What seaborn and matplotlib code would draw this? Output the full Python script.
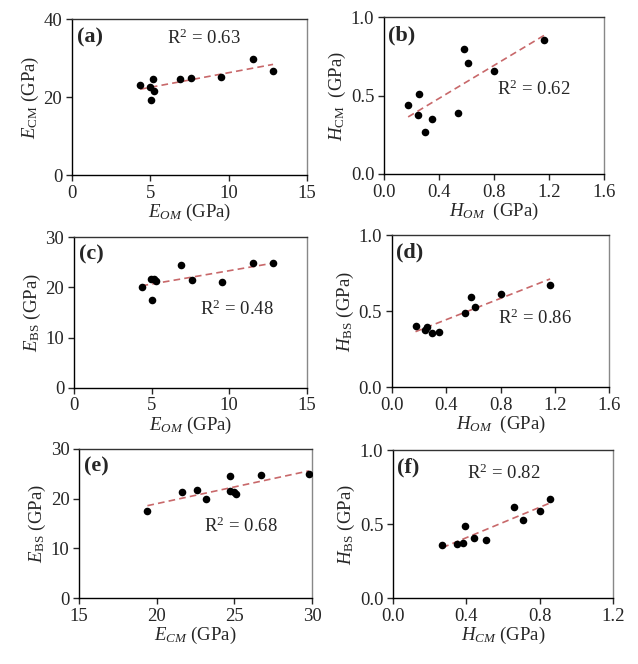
import numpy as np
import pandas as pd
import seaborn as sns
import matplotlib.pyplot as plt

# values (10 samples)
E_OM = [4.35, 4.95, 5.01, 5.14, 5.25, 6.91, 7.57, 9.51, 11.53, 12.84]
E_CM = [23.2, 22.6, 19.4, 24.7, 21.6, 24.7, 25.0, 25.1, 29.8, 26.7]
E_BS = [20.0, 21.7, 17.5, 21.6, 21.3, 24.5, 21.4, 21.0, 24.9, 24.8]

H_OM = [0.175, 0.257, 0.245, 0.299, 0.347, 0.537, 0.583, 0.612, 0.801, 1.165]
H_CM = [0.443, 0.508, 0.379, 0.269, 0.350, 0.390, 0.799, 0.708, 0.659, 0.858]
H_BS = [0.405, 0.395, 0.376, 0.357, 0.365, 0.488, 0.591, 0.530, 0.613, 0.672]

r2_values = ['0.63', '0.62', '0.48', '0.86', '0.68', '0.82']
panel_tags = ['(a)', '(b)', '(c)', '(d)', '(e)', '(f)']

df = pd.DataFrame({'E_OM': E_OM, 'E_CM': E_CM, 'E_BS': E_BS,
                   'H_OM': H_OM, 'H_CM': H_CM, 'H_BS': H_BS})

sns.set_theme(style='ticks')
plt.rcParams['font.family'] = ['Liberation Serif', 'DejaVu Serif']
plt.rcParams['mathtext.fontset'] = 'custom'
plt.rcParams['mathtext.rm'] = 'Liberation Serif'
plt.rcParams['mathtext.it'] = 'Liberation Serif:italic'
plt.rcParams['mathtext.bf'] = 'Liberation Serif:bold'

fig = plt.figure(figsize=(6.38, 6.64), dpi=100)

# panel setup: x col, y col, axes rect, limits, ticks, labels, R2 text pos
panels = [
    ('E_OM', 'E_CM', [0.113, 0.736, 0.368, 0.235], (0, 15), (0, 40),
     [0, 5, 10, 15], [0, 20, 40], r'$E_{OM}$ (GPa)', r'$E_{\mathrm{CM}}$ (GPa)', (0.56, 0.88), '{:.0f}'),
    ('H_OM', 'H_CM', [0.602, 0.738, 0.345, 0.236], (0, 1.6), (0, 1.0),
     [0, 0.4, 0.8, 1.2, 1.6], [0, 0.5, 1.0], r'$H_{OM}$  (GPa)', r'$H_{\mathrm{CM}}$  (GPa)', (0.68, 0.54), '{:.1f}'),
    ('E_OM', 'E_BS', [0.116, 0.416, 0.365, 0.227], (0, 15), (0, 30),
     [0, 5, 10, 15], [0, 10, 20, 30], r'$E_{OM}$ (GPa)', r'$E_{\mathrm{BS}}$ (GPa)', (0.70, 0.52), '{:.0f}'),
    ('H_OM', 'H_BS', [0.614, 0.417, 0.341, 0.229], (0, 1.6), (0, 1.0),
     [0, 0.4, 0.8, 1.2, 1.6], [0, 0.5, 1.0], r'$H_{OM}$  (GPa)', r'$H_{\mathrm{BS}}$ (GPa)', (0.66, 0.45), '{:.1f}'),
    ('E_CM', 'E_BS', [0.124, 0.099, 0.365, 0.225], (15, 30), (0, 30),
     [15, 20, 25, 30], [0, 10, 20, 30], r'$E_{CM}$ (GPa)', r'$E_{\mathrm{BS}}$ (GPa)', (0.695, 0.48), '{:.0f}'),
    ('H_CM', 'H_BS', [0.616, 0.099, 0.345, 0.223], (0, 1.2), (0, 1.0),
     [0, 0.4, 0.8, 1.2], [0, 0.5, 1.0], r'$H_{CM}$ (GPa)', r'$H_{\mathrm{BS}}$ (GPa)', (0.505, 0.845), '{:.1f}'),
]

for i, (xc, yc, rect, xlim, ylim, xt, yt, xl, yl, txtpos, fmt) in enumerate(panels):
    ax = fig.add_axes(rect)
    sns.regplot(data=df, x=xc, y=yc, ax=ax, ci=None, truncate=True,
                scatter_kws={'s': 30, 'color': 'black', 'alpha': 1, 'linewidths': 0, 'zorder': 3},
                line_kws={'color': '#c8686a', 'lw': 1.2, 'ls': (0, (4, 2.5)), 'zorder': 2})
    ax.set_xlim(*xlim)
    ax.set_ylim(*ylim)
    ax.set_xticks(xt)
    ax.set_yticks(yt)
    ax.set_xticklabels([fmt.format(v) for v in xt])
    ax.set_yticklabels([fmt.format(v) for v in yt])
    ax.tick_params(direction='out', length=4, width=1, labelsize=13.5, pad=3,
                   top=False, right=False)
    ax.set_xlabel(xl, fontsize=13.5, labelpad=0)
    ax.set_ylabel(yl, fontsize=13.5, labelpad=2)
    for s in ['left', 'bottom']:
        ax.spines[s].set_color('black')
        ax.spines[s].set_linewidth(1)
    ax.spines['top'].set_color('#333333')
    ax.spines['right'].set_color('#888888')
    ax.spines['top'].set_linewidth(1)
    ax.spines['right'].set_linewidth(1)
    ax.text(0.02, 0.95, panel_tags[i], transform=ax.transAxes, ha='left', va='top',
            fontsize=16, fontweight='bold')
    ax.text(txtpos[0], txtpos[1], r'R$^2$ = ' + r2_values[i], transform=ax.transAxes,
            ha='center', va='center', fontsize=13.5)

fig.savefig('out.png', dpi=100, facecolor='white')
